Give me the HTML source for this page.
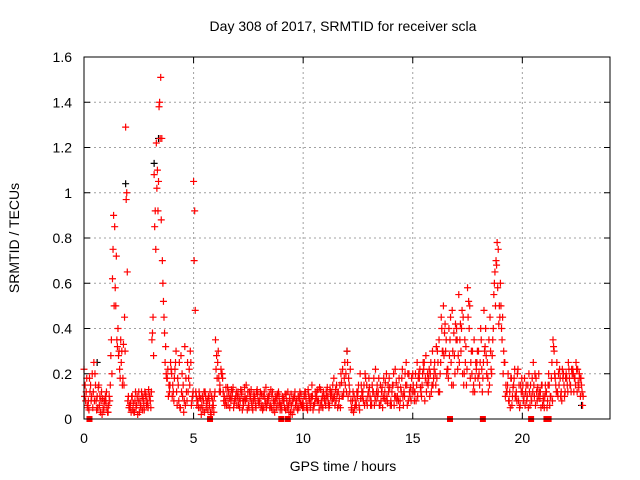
<!DOCTYPE html>
<html><head><meta charset="utf-8"><style>
body{margin:0;background:#fff;}
svg{display:block;font-family:"Liberation Sans",sans-serif;}
</style></head><body>
<svg id="chart" width="640" height="480">
<text x="343" y="31" font-size="14" text-anchor="middle" fill="#000">Day 308 of 2017, SRMTID for receiver scla</text>
<text x="343" y="471" font-size="14" text-anchor="middle" fill="#000">GPS time / hours</text>
<text transform="translate(19,238) rotate(-90)" font-size="14" text-anchor="middle" fill="#000">SRMTID / TECUs</text>
<g id="grid"></g><g id="ticks"></g><g id="marks"></g>
<rect x="84" y="57" width="526" height="362" fill="none" stroke="#000" stroke-width="1"/>
</svg>
<script>
const xTicks=[0,5,10,15,20];
const yTicks=[0,0.2,0.4,0.6,0.8,1,1.2,1.4,1.6];
const yTickLabels=["0","0.2","0.4","0.6","0.8","1","1.2","1.4","1.6"];
const stepHours=0.1;
const seriesA=[.22,.12,.08,.15,.05,.20,.10,.06,.12,.04,
.08,.03,.15,.62,.85,.35,.30,.25,.33,1.29,
.08,.05,.10,.03,.06,.12,.05,.09,.11,.07,
.10,.35,1.08,1.22,1.05,1.51,.60,.25,.18,.12,
.20,.08,.30,.15,.05,.10,.32,.08,.22,.06,
1.05,.12,.08,.05,.10,.03,.07,.09,.02,.06,
.35,.25,.15,.20,.10,.06,.12,.08,.14,.09,
.10,.05,.12,.08,.15,.06,.10,.04,.09,.13,
.07,.11,.05,.14,.08,.06,.12,.03,.09,.10,
.06,.09,.04,.12,.07,.02,.10,.08,.05,.11,
.07,.12,.04,.09,.15,.06,.10,.08,.13,.05,
.09,.14,.06,.11,.18,.08,.12,.05,.22,.25,
.30,.15,.05,.03,.08,.12,.20,.10,.06,.15,
.18,.08,.12,.22,.10,.06,.14,.09,.20,.12,
.08,.15,.22,.10,.05,.18,.12,.25,.08,.14,
.20,.12,.25,.18,.10,.22,.28,.15,.20,.30,
.25,.18,.35,.45,.50,.30,.22,.35,.48,.28,
.40,.55,.30,.45,.25,.58,.50,.20,.35,.22,
.30,.40,.18,.32,.25,.15,.20,.55,.70,.75,
.60,.45,.25,.12,.08,.18,.15,.10,.22,.06,
.12,.18,.08,.20,.10,.25,.06,.14,.09,.15,
.05,.12,.20,.10,.35,.18,.12,.22,.08,.15,
.20,.25,.15,.22,.18,.12,.20,.15];
const seriesB=[.15,.06,.18,.10,.25,.08,.14,.03,.09,.07,
.05,.10,.35,.90,.50,.40,.18,.15,.45,1.00,
.05,.03,.07,.12,.02,.08,.10,.04,.06,.13,
.05,.45,.92,1.10,1.40,1.24,.45,.20,.10,.25,
.15,.22,.06,.25,.12,.03,.18,.12,.30,.10,
.92,.06,.12,.02,.08,.10,.04,.12,.05,.10,
.28,.18,.22,.12,.08,.14,.05,.10,.07,.12,
.06,.13,.08,.10,.04,.12,.07,.11,.05,.08,
.12,.04,.09,.07,.11,.05,.08,.10,.06,.04,
.10,.05,.08,.03,.11,.09,.06,.04,.12,.07,
.10,.05,.11,.07,.04,.12,.08,.14,.06,.10,
.12,.07,.10,.15,.06,.11,.09,.16,.12,.20,
.10,.22,.08,.05,.12,.06,.15,.08,.18,.10,
.10,.15,.06,.12,.18,.08,.10,.16,.07,.14,
.12,.06,.16,.08,.14,.10,.20,.06,.12,.18,
.12,.08,.18,.14,.20,.08,.16,.22,.12,.18,
.15,.25,.20,.30,.38,.20,.40,.25,.15,.42,
.22,.35,.48,.20,.15,.52,.25,.12,.18,.30,
.15,.22,.48,.28,.12,.30,.35,.65,.78,.50,
.40,.30,.15,.20,.05,.10,.22,.08,.15,.12,
.08,.12,.15,.06,.18,.10,.12,.20,.05,.10,
.15,.08,.06,.25,.30,.12,.20,.10,.18,.12,
.15,.18,.22,.12,.25,.16,.10,.06];
const seriesC=[.10,.18,.04,.08,.12,.15,.05,.10,.02,.08,
.12,.06,.28,.75,.58,.32,.22,.30,.15,.97,
.10,.07,.04,.08,.10,.03,.12,.07,.10,.05,
.08,.38,.85,1.02,1.38,.88,.52,.32,.22,.15,
.10,.18,.12,.08,.28,.15,.06,.25,.15,.08,
.70,.10,.05,.09,.04,.12,.08,.06,.10,.03,
.22,.30,.12,.18,.06,.10,.09,.13,.05,.10,
.12,.08,.04,.14,.09,.05,.13,.08,.06,.11,
.09,.06,.12,.05,.10,.13,.04,.08,.11,.07,
.04,.08,.11,.06,.03,.08,.12,.05,.09,.06,
.05,.09,.13,.05,.10,.07,.12,.04,.08,.12,
.06,.10,.13,.08,.10,.15,.06,.20,.10,.15,
.25,.12,.04,.10,.06,.15,.09,.12,.20,.06,
.14,.06,.18,.08,.12,.15,.05,.12,.10,.18,
.06,.20,.10,.14,.08,.22,.10,.15,.20,.08,
.15,.20,.10,.22,.15,.25,.12,.18,.25,.15,
.20,.30,.12,.40,.28,.35,.18,.45,.30,.20,
.35,.25,.40,.15,.32,.45,.18,.30,.12,.25,
.20,.35,.25,.40,.18,.45,.28,.60,.68,.42,
.50,.20,.10,.15,.12,.06,.18,.12,.08,.15,
.15,.06,.10,.12,.08,.15,.18,.10,.12,.06,
.10,.05,.15,.18,.32,.15,.10,.18,.22,.10,
.18,.22,.12,.20,.15,.22,.18,.12];
const seriesD=[.08,.05,.12,.20,.08,.04,.15,.08,.05,.10,
.03,.08,.20,.50,.72,.28,.35,.18,.30,.65,
.06,.10,.03,.05,.08,.06,.04,.12,.08,.10,
.12,.28,.75,.92,1.24,.70,.38,.18,.15,.22,
.12,.25,.18,.05,.20,.08,.12,.18,.25,.12,
.48,.08,.10,.06,.12,.05,.10,.03,.08,.12,
.18,.12,.20,.08,.14,.06,.10,.12,.08,.06,
.09,.11,.06,.08,.12,.09,.05,.10,.12,.07,
.05,.10,.07,.09,.05,.10,.07,.05,.12,.06,
.08,.11,.05,.09,.06,.04,.08,.10,.07,.05,
.12,.06,.08,.10,.06,.09,.13,.06,.10,.08,
.10,.05,.12,.09,.13,.05,.15,.10,.18,.12,
.18,.08,.12,.06,.10,.04,.12,.15,.08,.12,
.06,.12,.10,.15,.06,.12,.18,.08,.15,.06,
.15,.10,.08,.18,.12,.06,.15,.20,.10,.12,
.08,.15,.20,.12,.25,.18,.20,.10,.15,.22,
.32,.12,.25,.30,.42,.22,.28,.15,.38,.35,
.28,.42,.20,.35,.22,.40,.30,.15,.25,.18,
.25,.12,.30,.20,.35,.22,.40,.50,.58,.45,
.35,.25,.12,.08,.18,.14,.10,.20,.05,.18,
.10,.15,.05,.15,.12,.20,.08,.12,.15,.08,
.12,.15,.10,.08,.20,.25,.15,.12,.20,.18,
.12,.15,.20,.18,.22,.14,.18,.10];
const blackTimes=[0.6,1.9,3.2,3.4,12.0,22.7];
const blackValues=[0.25,1.04,1.13,1.24,0.3,0.06];
const zeroTimes=[0.25,5.75,9.0,9.3,16.7,18.2,20.4,21.1,21.2];

const X0=84,X1=610,Y0=419,Y1=57;
const xs=t=>X0+(t/24)*(X1-X0);
const ys=v=>Y0-(v/1.6)*(Y0-Y1);
const NS="http://www.w3.org/2000/svg";
const grid=document.getElementById('grid'),ticks=document.getElementById('ticks'),marks=document.getElementById('marks');
function mk(tag,attrs,parent){const e=document.createElementNS(NS,tag);for(const k in attrs)e.setAttribute(k,attrs[k]);parent.appendChild(e);return e;}
xTicks.forEach(t=>{
  if(t>0){const g=mk('line',{x1:xs(t),x2:xs(t),y1:Y0,y2:Y1,stroke:'#a0a0a0','stroke-dasharray':'2,3'},grid);
  
  }
  const tk=mk('path',{d:`M${xs(t)} ${Y0}v-6M${xs(t)} ${Y1}v6`,stroke:'#000'},ticks);
  
  
  const l=mk('text',{x:xs(t),y:443,'font-size':14,'text-anchor':'middle'},ticks);l.textContent=t;
  
  
});
yTicks.forEach((v,i)=>{
  if(v>0&&v<1.6){const g=mk('line',{x1:X0,x2:X1,y1:ys(v),y2:ys(v),stroke:'#a0a0a0','stroke-dasharray':'2,3'},grid);
  
  }
  const tk=mk('path',{d:`M${X0} ${ys(v)}h6M${X1} ${ys(v)}h-6`,stroke:'#000'},ticks);
  
  
  const l=mk('text',{x:72,y:ys(v)+5,'font-size':14,'text-anchor':'end'},ticks);l.textContent=yTickLabels[i];
  
  
});
function plus(t,v,color,name){
  const x=xs(t),y=ys(v);
  const p=mk('path',{d:`M${x-3.5} ${y}h7M${x} ${y-3.5}v7`,stroke:color,'stroke-width':1.2,fill:'none'},marks);
  
  
}
blackTimes.forEach((t,i)=>plus(t,blackValues[i],'#000','black-point'));
seriesA.forEach((v,i)=>plus(i*stepHours,v,'#f00','srmtid-point'));
seriesB.forEach((v,i)=>plus(i*stepHours+0.05,v,'#f00','srmtid-point'));
seriesC.forEach((v,i)=>plus(i*stepHours+0.025,v,'#f00','srmtid-point'));
seriesD.forEach((v,i)=>plus(i*stepHours+0.075,v,'#f00','srmtid-point'));
zeroTimes.forEach(t=>{
  const r=mk('rect',{x:xs(t)-3,y:Y0-3,width:6,height:6,fill:'#f00'},marks);
  
  
});
</script>
</body></html>
